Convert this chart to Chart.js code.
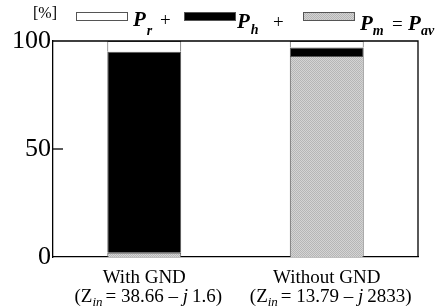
<!DOCTYPE html>
<html>
<head>
<meta charset="utf-8">
<script src="https://cdn.jsdelivr.net/npm/chart.js@4.4.1/dist/chart.umd.min.js"></script>
<style>
  html, body { margin: 0; padding: 0; background: #fff; }
  #wrap { width: 443px; height: 307px; position: relative; }
</style>
</head>
<body>
<div id="wrap"><canvas id="powerChart" width="443" height="307"></canvas></div>
<script>
const categories = ["With GND", "Without GND"];
const zRe = ["38.66", "13.79"];
const zIm = ["1.6", "2833"];
// percentages, bottom to top
const pm = [2, 93];
const ph = [93, 4];
const pr = [5, 3];
const yTicks = [0, 50, 100];

const SERIF = "'Liberation Serif', 'Times New Roman', serif";

// fine grey texture used for P_m
function hatchPattern() {
  const c = document.createElement("canvas");
  c.width = 2;
  c.height = 2;
  const g = c.getContext("2d");
  g.fillStyle = "#d4d4d4";
  g.fillRect(0, 0, 2, 2);
  g.fillStyle = "#b6b6b6";
  g.fillRect(0, 0, 1, 1);
  g.fillRect(1, 1, 1, 1);
  return g.createPattern(c, "repeat");
}

// draw a run of text pieces left to right
function drawRun(ctx, x, y, pieces) {
  pieces.forEach((p) => {
    if (p.at !== undefined) x = p.at;
    ctx.font = p.font;
    ctx.fillText(p.t, x, y + (p.dy || 0));
    x += ctx.measureText(p.t).width + (p.gap || 0);
  });
  return x;
}

function runWidth(ctx, pieces) {
  let w = 0;
  pieces.forEach((p) => {
    ctx.font = p.font;
    w += ctx.measureText(p.t).width + (p.gap || 0);
  });
  return w;
}

const decorations = {
  id: "decorations",
  afterDraw(chart) {
    const ctx = chart.ctx;
    const a = chart.chartArea;
    const y = chart.scales.y;
    const x = chart.scales.x;
    ctx.save();

    // frame
    ctx.strokeStyle = "#000";
    ctx.lineWidth = 1.3;
    ctx.beginPath();
    ctx.moveTo(a.left, a.top);
    ctx.lineTo(a.right, a.top);
    ctx.lineTo(a.right, a.bottom);
    ctx.stroke();

    // inward tick at 50
    const y50 = y.getPixelForValue(50);
    ctx.beginPath();
    ctx.moveTo(a.left, y50);
    ctx.lineTo(a.left + 10, y50);
    ctx.stroke();

    // legend
    ctx.fillStyle = "#000";
    ctx.textBaseline = "alphabetic";
    ctx.font = "16px " + SERIF;
    ctx.fillText("[%]", 33, 18);

    const boxes = [
      { x: 76, fill: "#fff" },
      { x: 184, fill: "#000" },
      { x: 303, fill: hatchPattern() }
    ];
    boxes.forEach((b) => {
      ctx.fillStyle = b.fill;
      ctx.fillRect(b.x, 12.5, 51, 8);
      ctx.strokeStyle = "#555";
      ctx.lineWidth = 1;
      ctx.strokeRect(b.x + 0.5, 12.5, 51, 8);
    });

    ctx.fillStyle = "#000";
    const pFont = "italic bold 21px " + SERIF;
    const sFont = "italic bold 14px " + SERIF;
    const opFont = "19px " + SERIF;
    drawRun(ctx, 133, 26, [
      { t: "P", font: pFont, gap: 1 },
      { t: "r", font: sFont, dy: 9 },
      { t: "+", font: opFont, at: 160 }
    ]);
    drawRun(ctx, 237, 28, [
      { t: "P", font: pFont, gap: 1 },
      { t: "h", font: sFont, dy: 6 },
      { t: "+", font: opFont, at: 273 }
    ]);
    drawRun(ctx, 360, 30, [
      { t: "P", font: pFont, gap: 0 },
      { t: "m", font: sFont, dy: 5 },
      { t: "=", font: opFont, at: 392 },
      { t: "P", font: pFont, at: 408 },
      { t: "av", font: sFont, dy: 5, at: 421 }
    ]);

    // category labels
    ctx.textBaseline = "alphabetic";
    const catFont = "19px " + SERIF;
    const subFont = "italic 13px " + SERIF;
    categories.forEach((c, i) => {
      const cx = x.getPixelForValue(i);
      ctx.font = catFont;
      ctx.textAlign = "center";
      ctx.fillText(c, cx, 283);
      ctx.textAlign = "left";
      const pieces = [
        { t: "(Z", font: catFont },
        { t: "in", font: subFont, dy: 4, gap: 3 },
        { t: "= " + zRe[i] + " \u2013 ", font: catFont },
        { t: "j", font: "italic 19px " + SERIF, gap: 4 },
        { t: zIm[i] + ")", font: catFont }
      ];
      const w = runWidth(ctx, pieces);
      drawRun(ctx, cx + 4 - w / 2, 302, pieces);
    });

    ctx.restore();
  }
};

const gray = hatchPattern();

new Chart(document.getElementById("powerChart"), {
  type: "bar",
  data: {
    labels: categories,
    datasets: [
      { label: "Pm", data: pm, backgroundColor: gray, borderColor: "#555", borderWidth: 1 },
      { label: "Ph", data: ph, backgroundColor: "#000", borderColor: "#555", borderWidth: 1 },
      { label: "Pr", data: pr, backgroundColor: "#fff", borderColor: "#555", borderWidth: 1 }
    ]
  },
  options: {
    responsive: false,
    animation: false,
    devicePixelRatio: 1,
    layout: {
      padding: { top: 41, right: 25, left: 0, bottom: 0 }
    },
    plugins: {
      legend: { display: false },
      tooltip: { enabled: false }
    },
    datasets: {
      bar: {
        categoryPercentage: 1,
        barPercentage: 0.405
      }
    },
    scales: {
      x: {
        stacked: true,
        grid: { display: false },
        border: { display: true, color: "#000", width: 1.3 },
        ticks: { display: false },
        afterFit(scale) {
          scale.height = 50;
        }
      },
      y: {
        stacked: true,
        min: 0,
        max: 100,
        afterBuildTicks(scale) {
          scale.ticks = yTicks.map((v) => ({ value: v }));
        },
        grid: { display: false, drawTicks: false },
        border: { display: true, color: "#000", width: 1.3 },
        ticks: {
          color: "#000",
          padding: 2,
          font: { family: SERIF, size: 26 }
        },
        afterFit(scale) {
          scale.width = 53;
        }
      }
    }
  },
  plugins: [decorations]
});
</script>
</body>
</html>
